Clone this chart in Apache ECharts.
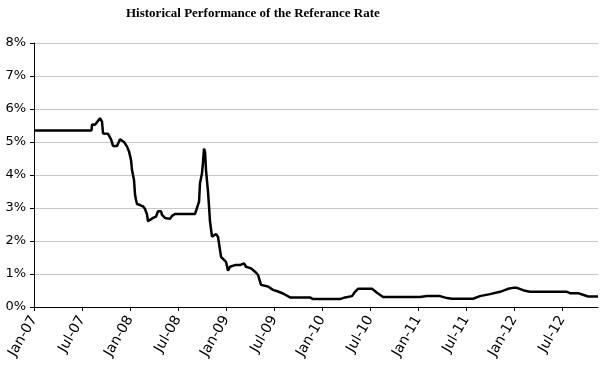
<!DOCTYPE html>
<html>
<head>
<meta charset="utf-8">
<script src="https://cdn.jsdelivr.net/npm/echarts@6/dist/echarts.min.js"></script>
<style>html,body{margin:0;padding:0;background:#fff}#c{width:600px;height:372px}</style>
</head>
<body>
<div id="c"></div>
<script>
// Months elapsed since Jan-07
var months = [0,7.19,7.25,7.63,7.88,8.25,8.5,8.63,9.25,9.63,9.88,10.38,10.75,11.0,11.25,11.63,11.88,12.13,12.25,12.38,12.5,12.63,12.75,12.88,13.25,13.63,13.88,14.13,14.25,14.5,14.88,15.25,15.5,15.88,16.0,16.38,17.0,17.25,17.63,20.13,20.38,20.63,20.75,21.0,21.13,21.25,21.38,21.5,21.75,21.88,22.0,22.25,22.5,22.75,23.0,23.38,23.63,24.0,24.25,24.5,25.13,25.75,26.25,26.5,27.13,27.63,28.0,28.38,29.25,29.88,30.5,31.13,32.0,34.5,34.88,38.25,38.88,39.75,40.13,40.5,42.25,42.88,43.63,48.25,49.13,50.75,51.63,52.25,54.88,55.75,57.0,58.25,59.25,59.88,60.38,61.38,62.0,66.63,67.0,68.0,68.63,69.25,70.5];
// Reference rate (%)
var rates = [5.35,5.35,5.53,5.52,5.48,5.72,5.62,5.26,5.25,5.08,4.88,4.88,5.08,5.14,5.0,4.86,4.71,4.45,4.15,4.1,3.85,3.4,3.25,3.12,3.09,3.05,2.97,2.8,2.6,2.65,2.7,2.74,2.9,2.9,2.79,2.7,2.67,2.76,2.82,2.82,2.84,3.19,3.75,4.05,4.4,4.8,4.7,4.15,3.5,3.04,2.59,2.13,2.18,2.21,2.13,1.52,1.47,1.37,1.1,1.22,1.27,1.27,1.32,1.22,1.17,1.07,0.97,0.67,0.62,0.52,0.47,0.41,0.29,0.29,0.24,0.24,0.29,0.33,0.46,0.55,0.55,0.43,0.3,0.3,0.33,0.33,0.27,0.25,0.25,0.33,0.39,0.46,0.55,0.58,0.58,0.49,0.46,0.46,0.42,0.42,0.37,0.32,0.32];
var tickLabels = ['Jan-07','Jul-07','Jan-08','Jul-08','Jan-09','Jul-09','Jan-10','Jul-10','Jan-11','Jul-11','Jan-12','Jul-12'];
var titleText = 'Historical Performance of the Referance Rate';

var data = months.map(function(m, i){ return [m, rates[i]]; });
var chart = echarts.init(document.getElementById('c'), null, {renderer:'canvas'});
chart.setOption({
  animation: false,
  backgroundColor: '#fff',
  title: {
    text: titleText,
    left: 121, top: 2,
    textStyle: {fontFamily: 'Liberation Serif', fontWeight: 'bold', fontSize: 13, color: '#000'}
  },
  grid: {left: 34, right: 2, top: 43, bottom: 65, containLabel: false},
  xAxis: {
    type: 'value', min: 0, max: 70.5, interval: 6,
    axisLine: {lineStyle: {color: '#000', width: 1}},
    axisTick: {show: true, length: 4, lineStyle: {color: '#000'}},
    splitLine: {show: false},
    axisLabel: {
      rotate: 60, margin: 10, fontFamily: 'DejaVu Sans', fontSize: 14, color: '#000',
      showMaxLabel: false,
      formatter: function(v){ var i = Math.round(v/6); return tickLabels[i] || ''; }
    }
  },
  yAxis: {
    type: 'value', min: 0, max: 8, interval: 1,
    axisLine: {show: true, lineStyle: {color: '#000', width: 1}},
    axisTick: {show: true, length: 4, lineStyle: {color: '#000'}},
    splitLine: {show: true, lineStyle: {color: '#c8c8c8', width: 1}},
    axisLabel: {margin: 8, fontFamily: 'DejaVu Sans', fontSize: 13, color: '#000', formatter: '{value}%'}
  },
  series: [{
    type: 'line', data: data, showSymbol: false,
    lineStyle: {color: '#000', width: 2.5},
    itemStyle: {color: '#000'}
  }]
});
</script>
</body>
</html>
